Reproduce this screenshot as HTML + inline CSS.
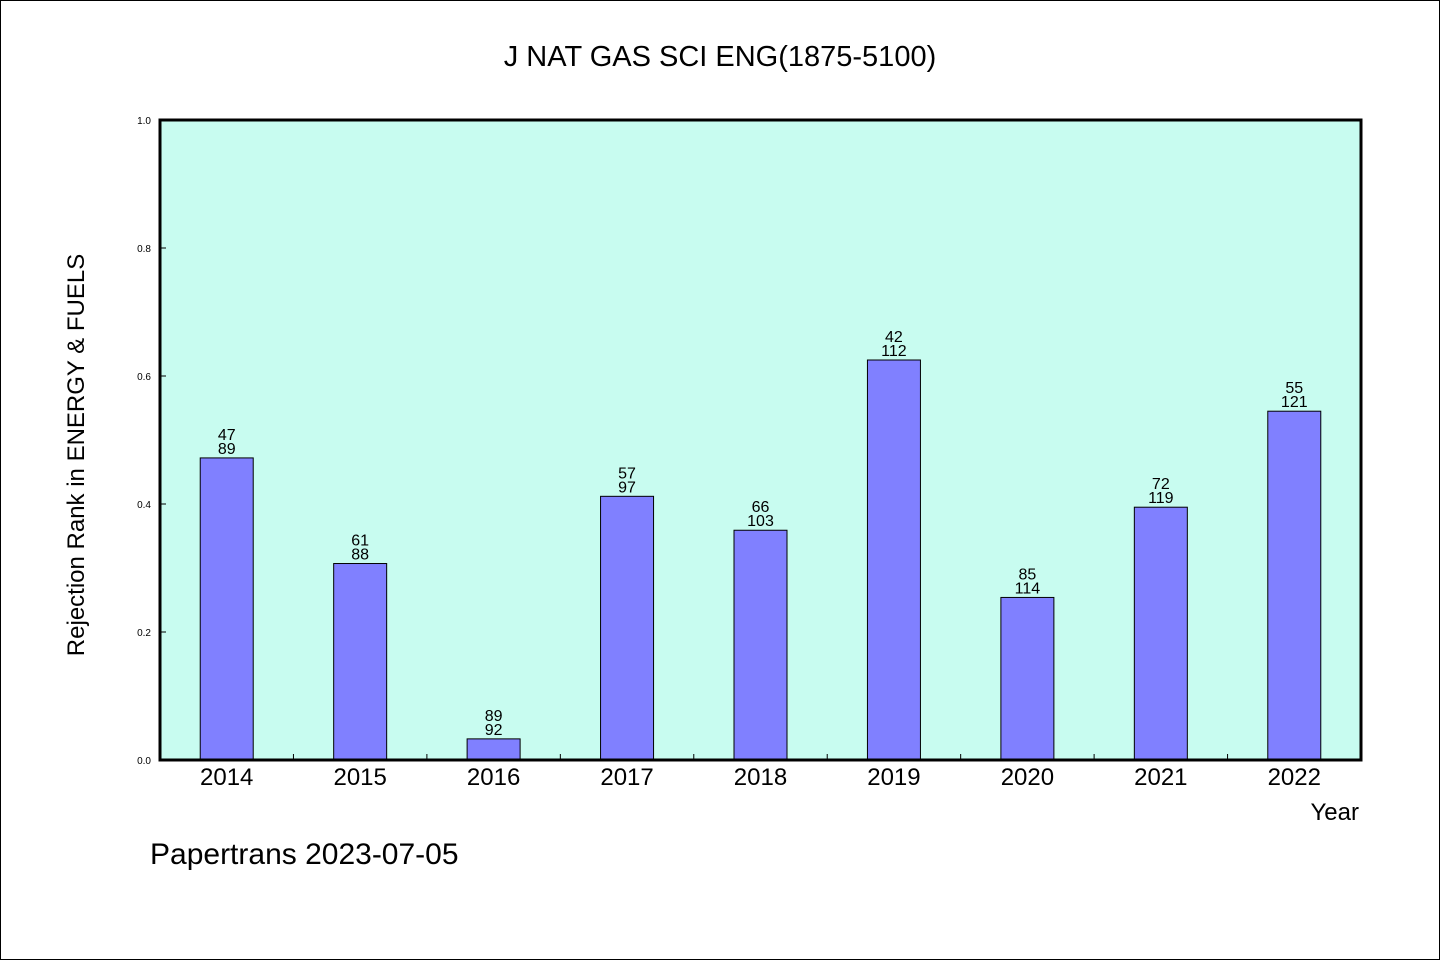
<!DOCTYPE html>
<html><head><meta charset="utf-8"><style>
body{margin:0;background:#fff}
svg{display:block}
text{font-family:"WenQuanYi Zen Hei","Liberation Sans",sans-serif;fill:#000}
</style></head><body>
<svg id="chart" width="1440" height="960">
<rect x="0.5" y="0.5" width="1439" height="959" fill="#fff" stroke="#000"/>
<text x="720" y="66" font-size="29" text-anchor="middle">J NAT GAS SCI ENG(1875-5100)</text>
<rect x="160" y="120" width="1201" height="640" fill="#c8fcf0"/>
<g id="marks"></g>
<rect x="160" y="120" width="1201" height="640" fill="none" stroke="#000" stroke-width="3"/>
<text transform="translate(84,455) rotate(-90)" font-size="24" text-anchor="middle">Rejection Rank in ENERGY &amp; FUELS</text>
<text x="1359" y="820" font-size="24" text-anchor="end">Year</text>
<text x="150" y="864" font-size="30">Papertrans 2023-07-05</text>
</svg>
<script>
const categories=["2014","2015","2016","2017","2018","2019","2020","2021","2022"];
const ranks=[47,61,89,57,66,42,85,72,55];
const totals=[89,88,92,97,103,112,114,119,121];
const values=[0.472,0.307,0.033,0.412,0.359,0.625,0.254,0.395,0.545];
const yTicks=["0.0","0.2","0.4","0.6","0.8","1.0"];
const NS="http://www.w3.org/2000/svg";
const L=160,R=1361,T=120,B=760;
const step=(R-L)/categories.length;
const xc=i=>L+step*(i+0.5);
const y=v=>B-(v-0)/(1-0)*(B-T);
const g=document.getElementById('marks');
function mk(tag,a){const e=document.createElementNS(NS,tag);for(const k in a)e.setAttribute(k,a[k]);g.appendChild(e);return e;}
yTicks.forEach(t=>{
 const v=parseFloat(t),yy=y(v);
 const tk=mk('line',{x1:L,x2:L+6,y1:yy,y2:yy,stroke:'#000','stroke-width':1});
 
 
 const lb=mk('text',{x:151,y:yy+4,'font-size':10,'text-anchor':'end'});
 lb.textContent=t;
 
 
});
categories.forEach((c,i)=>{
 if(i>0){
  const tk=mk('line',{x1:L+step*i,x2:L+step*i,y1:B-6,y2:B,stroke:'#000','stroke-width':1});
  
  
 }
 const w=53,yy=y(values[i]);
 const b=mk('rect',{x:xc(i)-w/2,y:yy,width:w,height:B-yy,fill:'#8080ff',stroke:'#000','stroke-width':1});
 
 
 const t1=mk('text',{x:xc(i),y:yy-18,'font-size':16,'text-anchor':'middle'});
 t1.textContent=ranks[i];
 
 
 const t2=mk('text',{x:xc(i),y:yy-4,'font-size':16,'text-anchor':'middle'});
 t2.textContent=totals[i];
 
 
 const xl=mk('text',{x:xc(i),y:785,'font-size':24,'text-anchor':'middle'});
 xl.textContent=c;
 
 
});
</script>
</body></html>
